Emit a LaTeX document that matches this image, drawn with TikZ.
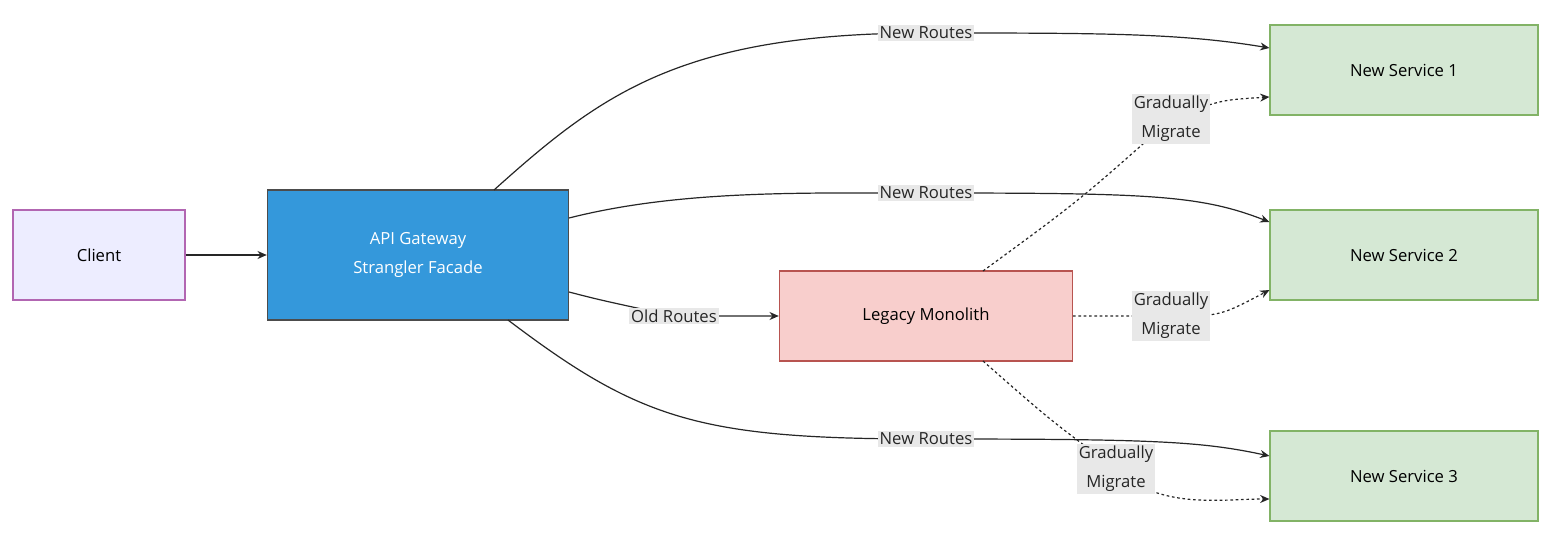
\documentclass[tikz,border=0pt]{standalone}
\usepackage{fontspec}
\setmainfont{Open Sans}
\usetikzlibrary{arrows.meta}
\definecolor{lbl}{HTML}{E8E8E8}
\begin{document}
\begin{tikzpicture}[x=0.75pt,y=-0.75pt,
  box/.style={draw,minimum width=#1,minimum height=67.5pt,inner sep=0pt,align=center,font=\fontsize{12.5}{22}\selectfont,line width=0.8pt},
  lab/.style={fill=lbl,inner sep=1.5pt,align=center,font=\fontsize{12.5}{22}\selectfont,text=black!85},
  e/.style={draw=black!85,line width=0.9pt,-{Stealth[length=7pt,width=6pt]}},
  d/.style={e,dash pattern=on 2pt off 2pt}]
\useasboundingbox (0,0) rectangle (1568,542);
\node[box=129pt,draw=violet!60,fill=blue!7] (c) at (99,255) {Client};
\node[box=226pt,minimum height=97.5pt,draw=black!70,fill={rgb,255:red,52;green,152;blue,219},text=white] (g) at (418,255) {API Gateway\\Strangler Facade};
\node[box=220pt,draw={rgb,255:red,184;green,84;blue,80},fill={rgb,255:red,248;green,206;blue,204}] (m) at (926,316) {Legacy Monolith};
\foreach \n/\y/\t in {s1/70/1,s2/255/2,s3/476/3}
  \node[box=201pt,draw={rgb,255:red,130;green,179;blue,102},fill={rgb,255:red,213;green,232;blue,212}] (\n) at (1404,\y) {New Service \t};
\coordinate (l1) at (926,33); \coordinate (l2) at (926,193); \coordinate (l3) at (926,439);
\coordinate (lo) at (674,316);
\coordinate (m1) at (1171,119); \coordinate (m2) at (1171,316); \coordinate (m3) at (1116,469);
\draw[e] (c) -- (g);
\draw[e] (494,190) .. controls (600,95) and (680,33) .. (l1) .. controls (1100,33) and (1180,33) .. (s1.west|-0,48);
\draw[e] (569,218) .. controls (680,190) and (800,193) .. (l2) .. controls (1150,193) and (1200,195) .. (s2.west|-0,222);
\draw[e] (508,320) .. controls (640,420) and (700,439) .. (l3) .. controls (1150,439) and (1200,441) .. (s3.west|-0,456);
\draw[e] (569,292) .. controls (600,300) .. (lo) -- (m);
\draw[d] (983,271) .. controls (1080,200) .. (m1) .. controls (1220,100) .. (s1.west|-0,97);
\draw[d] (1073,316) .. controls (1120,316) .. (m2) .. controls (1220,316) .. (s2.west|-0,290);
\draw[d] (983,361) .. controls (1050,420) .. (m3) .. controls (1160,510) and (1220,499) .. (s3.west|-0,499);
\foreach \p in {l1,l2,l3} \node[lab] at (\p) {New Routes};
\node[lab] at (lo) {Old Routes};
\foreach \p in {m1,m2,m3} \node[lab] at (\p) {Gradually\\Migrate};
\end{tikzpicture}
\end{document}
